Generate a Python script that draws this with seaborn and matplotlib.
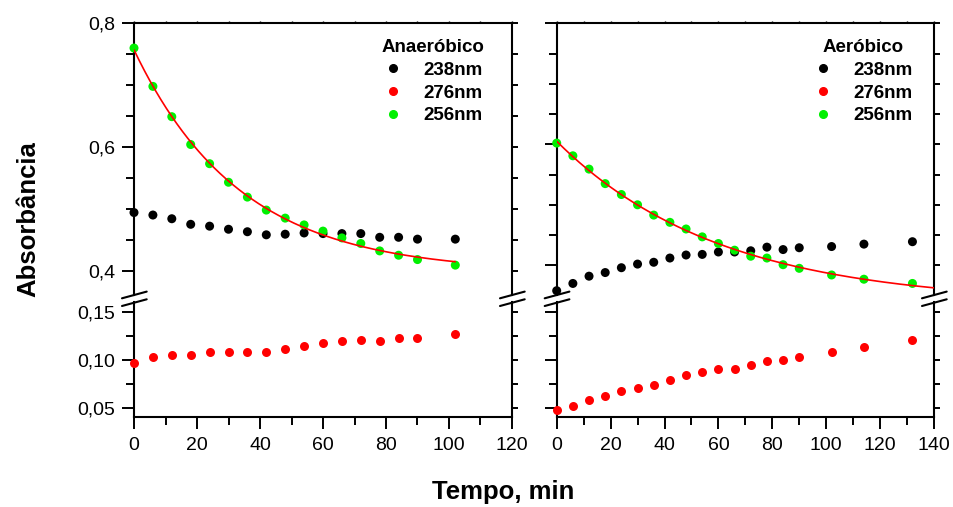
import numpy as np
import pandas as pd
import matplotlib
matplotlib.use("Agg")
import matplotlib.pyplot as plt
import seaborn as sns
from matplotlib.lines import Line2D
from matplotlib.ticker import MultipleLocator, FuncFormatter

# ---------------- data ----------------
t_anaer = [0, 6, 12, 18, 24, 30, 36, 42, 48, 54, 60, 66, 72, 78, 84, 90, 102]
anaer_238 = [0.494, 0.490, 0.484, 0.475, 0.472, 0.467, 0.463, 0.458, 0.459, 0.461,
             0.460, 0.460, 0.460, 0.454, 0.454, 0.451, 0.451]
anaer_276 = [0.097, 0.103, 0.105, 0.105, 0.108, 0.108, 0.108, 0.108, 0.111, 0.114,
             0.117, 0.119, 0.120, 0.119, 0.123, 0.123, 0.127]
anaer_256 = [0.760, 0.698, 0.649, 0.604, 0.573, 0.543, 0.519, 0.498, 0.485, 0.474,
             0.464, 0.453, 0.444, 0.432, 0.425, 0.418, 0.409]

t_aer = [0, 6, 12, 18, 24, 30, 36, 42, 48, 54, 60, 66, 72, 78, 84, 90, 102, 114, 132]
aer_238 = [0.358, 0.370, 0.382, 0.388, 0.396, 0.402, 0.405, 0.412, 0.417, 0.418,
           0.422, 0.422, 0.424, 0.430, 0.426, 0.429, 0.431, 0.435, 0.439]
aer_276 = [0.048, 0.052, 0.058, 0.062, 0.067, 0.071, 0.074, 0.079, 0.084, 0.087,
           0.090, 0.090, 0.094, 0.099, 0.100, 0.103, 0.108, 0.113, 0.120]
aer_256 = [0.602, 0.581, 0.559, 0.535, 0.517, 0.500, 0.483, 0.471, 0.460, 0.447,
           0.436, 0.425, 0.415, 0.412, 0.401, 0.395, 0.384, 0.377, 0.370]

panel_titles = ["Anaeróbico", "Aeróbico"]
series_labels = ["238nm", "276nm", "256nm"]
x_label = "Tempo, min"
y_label = "Absorbância"

GREEN = "#00f000"
RED = "#ff0000"
BLACK = "#000000"
series_colors = [BLACK, RED, GREEN]

# ---------------- style ----------------
sns.set_style("ticks")
plt.rcParams["font.family"] = ["Liberation Sans", "DejaVu Sans"]
plt.rcParams.update({
    "axes.linewidth": 1.5,
    "text.color": "black",
    "axes.labelcolor": "black",
    "axes.edgecolor": "black",
    "xtick.color": "black",
    "ytick.color": "black",
})

W, H = 954, 507
fig = plt.figure(figsize=(W / 100, H / 100), dpi=100)


def fx(px):
    return px / W


def fy(py):
    return 1 - py / H


def exp_fit(t, y):
    t = np.asarray(t, float)
    y = np.asarray(y, float)
    best = None
    for tau in np.linspace(5, 300, 3000):
        X = np.column_stack([np.ones_like(t), np.exp(-t / tau)])
        coef, *_ = np.linalg.lstsq(X, y, rcond=None)
        err = np.sum((X @ coef - y) ** 2)
        if best is None or err < best[0]:
            best = (err, coef, tau)
    _, (c0, c1), tau = best
    return lambda tt: c0 + c1 * np.exp(-np.asarray(tt) / tau)


panels = [
    dict(t=t_anaer, s238=anaer_238, s276=anaer_276, s256=anaer_256,
         left=134, right=512, xmax=120, up_ylim=(0.3607, 0.8), fit_end=102,
         ylabels=True, title=panel_titles[0], leg_x=0.962),
    dict(t=t_aer, s238=aer_238, s276=aer_276, s256=aer_256,
         left=556.7, right=934, xmax=140, up_ylim=(0.3509, 0.8), fit_end=140,
         ylabels=False, title=panel_titles[1], leg_x=0.978),
]

UP_TOP, UP_BOT = 23.3, 295
LO_TOP, LO_BOT = 302, 416.7

fmt1 = FuncFormatter(lambda v, p: f"{v:.1f}".replace(".", ","))
fmt2 = FuncFormatter(lambda v, p: f"{v:.2f}".replace(".", ","))

for P in panels:
    axU = fig.add_axes([fx(P["left"]), fy(UP_BOT), fx(P["right"] - P["left"]),
                        (UP_BOT - UP_TOP) / H])
    axL = fig.add_axes([fx(P["left"]), fy(LO_BOT), fx(P["right"] - P["left"]),
                        (LO_BOT - LO_TOP) / H])

    df_up = pd.DataFrame({"t": list(P["t"]) * 2,
                          "A": list(P["s238"]) + list(P["s256"]),
                          "s": [series_labels[0]] * len(P["t"]) + [series_labels[2]] * len(P["t"])})
    df_lo = pd.DataFrame({"t": P["t"], "A": P["s276"], "s": series_labels[1]})

    sns.scatterplot(data=df_up, x="t", y="A", hue="s",
                    palette={series_labels[0]: BLACK, series_labels[2]: GREEN},
                    s=42, linewidth=0, ax=axU, legend=False, clip_on=False, zorder=3)
    sns.scatterplot(data=df_lo, x="t", y="A", color=RED, s=42, linewidth=0,
                    ax=axL, legend=False, clip_on=False, zorder=3)

    f = exp_fit(P["t"], P["s256"])
    tt = np.linspace(0, P["fit_end"], 300)
    sns.lineplot(x=tt, y=f(tt), color=RED, linewidth=1.2, ax=axU, zorder=4)

    for ax in (axU, axL):
        ax.set_xlim(0, P["xmax"])
        ax.set_xlabel("")
        ax.set_ylabel("")
        for sp in ax.spines.values():
            sp.set_linewidth(1.5)
            sp.set_visible(True)
        ax.tick_params(axis="y", which="both", left=True, right=True,
                       direction="out", width=1.4, labelsize=14, pad=5,
                       labelleft=P["ylabels"], labelright=False)
        ax.tick_params(axis="y", which="major", length=8.5)
        ax.tick_params(axis="y", which="minor", length=5.5)
        ax.xaxis.set_major_locator(MultipleLocator(20))
        ax.xaxis.set_minor_locator(MultipleLocator(10))

    axU.set_ylim(*P["up_ylim"])
    axU.yaxis.set_major_locator(MultipleLocator(0.2))
    axU.yaxis.set_minor_locator(MultipleLocator(0.05))
    axU.yaxis.set_major_formatter(fmt1)
    axU.spines["bottom"].set_visible(False)
    axU.tick_params(axis="x", which="both", bottom=False, labelbottom=False,
                    top=True, direction="out", length=1.5, width=1)

    axL.set_ylim(0.0406, 0.1601)
    axL.yaxis.set_major_locator(MultipleLocator(0.05))
    axL.yaxis.set_minor_locator(MultipleLocator(0.025))
    axL.yaxis.set_major_formatter(fmt2)
    axL.spines["top"].set_visible(False)
    axL.tick_params(axis="x", which="both", bottom=True, top=False,
                    direction="out", width=1.4, labelsize=14, pad=6)
    axL.tick_params(axis="x", which="major", length=8.5)
    axL.tick_params(axis="x", which="minor", length=5.5)

    # right-side y ticks shorter
    for ax in (axU, axL):
        for tk in ax.yaxis.get_major_ticks():
            tk.tick2line.set_markersize(4)
        for tk in ax.yaxis.get_minor_ticks():
            tk.tick2line.set_markersize(4)

    # legend
    handles = [Line2D([], [], marker="o", linestyle="none", markersize=5.5,
                      markerfacecolor=c, markeredgecolor=c)
               for c in series_colors]
    axU.legend(handles, series_labels, title=P["title"], frameon=False,
               loc="upper right", bbox_to_anchor=(P["leg_x"], 0.99),
               handlelength=1.0, handletextpad=1.1, labelspacing=0.3,
               borderpad=0.2, prop={"weight": "bold", "size": 13.5},
               title_fontproperties={"weight": "bold", "size": 13.5})

    # break marks
    for xs in (P["left"], P["right"]):
        for y0 in (298.3, 306.0):
            fig.add_artist(Line2D([fx(xs - 12), fx(xs + 12.7)],
                                  [fy(y0), fy(y0 - 6.7)],
                                  transform=fig.transFigure, color="black",
                                  linewidth=1.5))

fig.text(fx(28), fy(219), y_label, rotation=90, ha="center", va="center",
         fontsize=18.5, fontweight="bold")
fig.text(fx(503), fy(492), x_label, ha="center", va="center",
         fontsize=18.5, fontweight="bold")

fig.savefig("out.png", dpi=100)
